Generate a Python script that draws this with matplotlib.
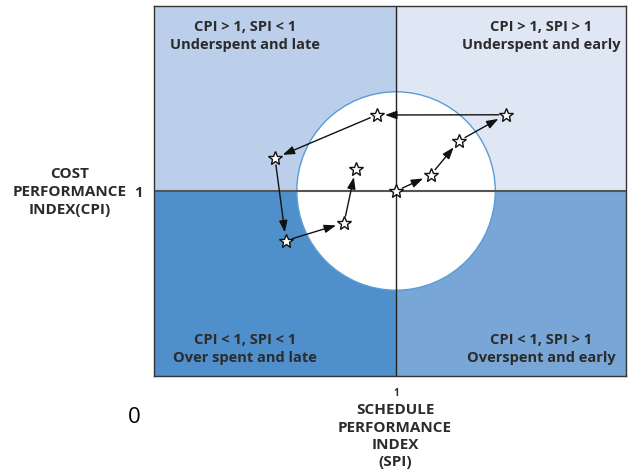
import matplotlib
matplotlib.use("Agg")
import matplotlib.pyplot as plt
from matplotlib.patches import Rectangle, Circle

# performance path (SPI, CPI), in the order it is walked
spi = [1.0, 1.143, 1.26, 1.453, 0.92, 0.50, 0.545, 0.785, 0.833]
cpi = [1.0, 1.066, 1.207, 1.315, 1.314, 1.136, 0.795, 0.868, 1.091]

quad_labels = [
    "CPI > 1, SPI < 1\nUnderspent and late",
    "CPI > 1, SPI > 1\nUnderspent and early",
    "CPI < 1, SPI < 1\nOver spent and late",
    "CPI < 1, SPI > 1\nOverspent and early",
]
quad_colors = ["#bbcfea", "#dfe7f5", "#4f8fcb", "#78a6d7"]

xmin, xmax = 0.0, 1.95
ymin, ymax = 0.2355, 1.7645
text_col = "#2b2b2b"
font = "Open Sans"

fig = plt.figure(figsize=(6.28, 4.77), dpi=100)
ax = fig.add_axes([154 / 628, 100 / 477, 472 / 628, 370 / 477])
ax.set_xlim(xmin, xmax)
ax.set_ylim(ymin, ymax)

# quadrants
ax.add_patch(Rectangle((xmin, 1), 1 - xmin, ymax - 1, color=quad_colors[0], zorder=0))
ax.add_patch(Rectangle((1, 1), xmax - 1, ymax - 1, color=quad_colors[1], zorder=0))
ax.add_patch(Rectangle((xmin, ymin), 1 - xmin, 1 - ymin, color=quad_colors[2], zorder=0))
ax.add_patch(Rectangle((1, ymin), xmax - 1, 1 - ymin, color=quad_colors[3], zorder=0))

# tolerance circle
ax.add_patch(Circle((1, 1), 0.41, facecolor="white", edgecolor="#5b9bd5", lw=1, zorder=1))

ax.axvline(1, color="#222222", lw=1, zorder=2)
ax.axhline(1, color="#555555", lw=1.5, zorder=2)

# arrows between successive points
for i in range(len(spi) - 1):
    ax.annotate("", xy=(spi[i + 1], cpi[i + 1]), xytext=(spi[i], cpi[i]),
                arrowprops=dict(arrowstyle="-|>,head_length=0.7,head_width=0.25",
                                color="#111111", lw=1, shrinkA=5, shrinkB=6),
                zorder=3)
ax.plot(spi, cpi, ls="none", marker="*", ms=10, mfc="white", mec="#111111",
        mew=1, zorder=4)

# quadrant texts
pos = [(0.193, 0.9216), (0.82, 0.9216), (0.193, 0.0757), (0.82, 0.0757)]
for (x, y), lab in zip(pos, quad_labels):
    ax.text(x, y, lab, transform=ax.transAxes, ha="center", va="center",
            fontsize=10.5, fontweight="bold", color=text_col, family=font,
            linespacing=1.35)

ax.set_xticks([1])
ax.set_xticklabels(["1"], fontsize=7, fontweight="bold", color=text_col, family=font)
ax.set_yticks([1])
ax.set_yticklabels(["1"], fontsize=10.5, fontweight="bold", color=text_col, family=font)
ax.tick_params(axis="x", length=0, pad=8)
ax.tick_params(axis="y", length=0, pad=8)

for s in ax.spines.values():
    s.set_color("#333333")
    s.set_linewidth(1)

ax.set_xlabel("SCHEDULE\nPERFORMANCE\nINDEX\n(SPI)", fontsize=11, fontweight="bold",
              color=text_col, family=font, linespacing=1.3, va="top", ha="center")
ax.xaxis.set_label_coords(0.5106, -0.071)
ax.set_ylabel("COST\nPERFORMANCE\nINDEX(CPI)", fontsize=11, fontweight="bold",
              color=text_col, family=font, linespacing=1.35, rotation=0,
              va="center", ha="center")
ax.yaxis.set_label_coords(-0.178, 0.5)

fig.text(134 / 628, 1 - 418 / 477, "0", fontsize=16, ha="center", va="center",
         color="black", family=font)

fig.savefig("out.png", dpi=100)
